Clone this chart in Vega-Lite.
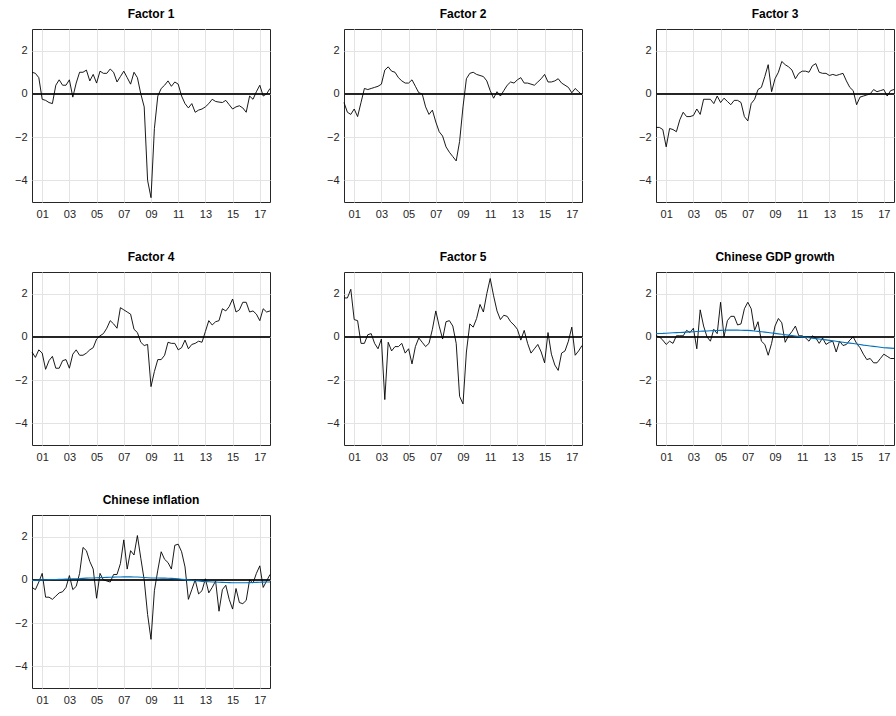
{
  "$schema": "https://vega.github.io/schema/vega-lite/v6.json",
  "padding": {"left": 13, "top": 7, "right": 0, "bottom": 0},
  "background": "white",
  "datasets": {
    "d": [
      {"t":2000.25,"f1":1.0,"f2":-0.4,"f3":-1.55,"f4":-0.7,"f5":1.8,"g":0.05,"gt":0.15,"i":-0.35,"it":-0.03},
      {"t":2000.5,"f1":0.95,"f2":-0.85,"f3":-1.55,"f4":-0.95,"f5":1.8,"g":0.0,"gt":0.155,"i":-0.45,"it":-0.02},
      {"t":2000.75,"f1":0.75,"f2":-0.95,"f3":-1.65,"f4":-0.6,"f5":2.2,"g":-0.15,"gt":0.16,"i":-0.1,"it":-0.01},
      {"t":2001.0,"f1":-0.25,"f2":-0.7,"f3":-2.45,"f4":-0.75,"f5":0.8,"g":-0.35,"gt":0.17,"i":0.3,"it":0.0},
      {"t":2001.25,"f1":-0.3,"f2":-1.05,"f3":-1.6,"f4":-1.5,"f5":0.75,"g":-0.2,"gt":0.18,"i":-0.8,"it":0.005},
      {"t":2001.5,"f1":-0.4,"f2":-0.4,"f3":-1.65,"f4":-1.1,"f5":-0.3,"g":-0.3,"gt":0.19,"i":-0.8,"it":0.01},
      {"t":2001.75,"f1":-0.45,"f2":0.25,"f3":-1.75,"f4":-0.9,"f5":-0.3,"g":0.05,"gt":0.195,"i":-0.9,"it":0.015},
      {"t":2002.0,"f1":0.4,"f2":0.2,"f3":-1.2,"f4":-1.45,"f5":0.1,"g":0.05,"gt":0.2,"i":-0.75,"it":0.02},
      {"t":2002.25,"f1":0.65,"f2":0.25,"f3":-0.85,"f4":-1.45,"f5":0.15,"g":0.05,"gt":0.21,"i":-0.6,"it":0.025},
      {"t":2002.5,"f1":0.4,"f2":0.3,"f3":-1.05,"f4":-1.1,"f5":-0.3,"g":0.3,"gt":0.22,"i":-0.55,"it":0.03},
      {"t":2002.75,"f1":0.4,"f2":0.35,"f3":-1.05,"f4":-1.05,"f5":-0.55,"g":0.2,"gt":0.23,"i":-0.35,"it":0.035},
      {"t":2003.0,"f1":0.65,"f2":0.45,"f3":-1.0,"f4":-1.45,"f5":-0.1,"g":0.4,"gt":0.24,"i":0.2,"it":0.04},
      {"t":2003.25,"f1":-0.15,"f2":1.1,"f3":-0.7,"f4":-0.8,"f5":-2.9,"g":-0.55,"gt":0.25,"i":-0.45,"it":0.05},
      {"t":2003.5,"f1":0.5,"f2":1.25,"f3":-0.95,"f4":-0.6,"f5":-0.25,"g":1.25,"gt":0.26,"i":-0.3,"it":0.055},
      {"t":2003.75,"f1":1.0,"f2":1.05,"f3":-0.25,"f4":-0.85,"f5":-0.65,"g":0.5,"gt":0.265,"i":0.3,"it":0.06},
      {"t":2004.0,"f1":1.0,"f2":1.0,"f3":-0.25,"f4":-0.85,"f5":-0.45,"g":0.0,"gt":0.27,"i":1.5,"it":0.07},
      {"t":2004.25,"f1":1.1,"f2":0.75,"f3":-0.25,"f4":-0.75,"f5":-0.45,"g":-0.2,"gt":0.28,"i":1.35,"it":0.08},
      {"t":2004.5,"f1":0.6,"f2":0.6,"f3":-0.45,"f4":-0.6,"f5":-0.3,"g":0.35,"gt":0.29,"i":0.85,"it":0.085},
      {"t":2004.75,"f1":0.9,"f2":0.5,"f3":-0.1,"f4":-0.5,"f5":-0.75,"g":0.15,"gt":0.295,"i":0.5,"it":0.09},
      {"t":2005.0,"f1":0.5,"f2":0.5,"f3":-0.4,"f4":-0.1,"f5":-0.55,"g":1.6,"gt":0.3,"i":-0.85,"it":0.1},
      {"t":2005.25,"f1":1.05,"f2":0.65,"f3":-0.2,"f4":0.05,"f5":-1.25,"g":0.0,"gt":0.305,"i":0.3,"it":0.105},
      {"t":2005.5,"f1":0.95,"f2":0.35,"f3":-0.35,"f4":0.15,"f5":-0.45,"g":0.75,"gt":0.31,"i":0.0,"it":0.11},
      {"t":2005.75,"f1":0.95,"f2":0.05,"f3":-0.5,"f4":0.4,"f5":-0.05,"g":0.95,"gt":0.31,"i":-0.05,"it":0.115},
      {"t":2006.0,"f1":1.15,"f2":0.0,"f3":-0.3,"f4":0.75,"f5":-0.25,"g":0.95,"gt":0.31,"i":-0.1,"it":0.12},
      {"t":2006.25,"f1":1.0,"f2":-0.6,"f3":-0.3,"f4":0.6,"f5":-0.45,"g":0.55,"gt":0.31,"i":0.25,"it":0.125},
      {"t":2006.5,"f1":0.55,"f2":-0.95,"f3":-0.4,"f4":0.4,"f5":-0.3,"g":0.6,"gt":0.305,"i":0.25,"it":0.13},
      {"t":2006.75,"f1":0.8,"f2":-0.75,"f3":-1.05,"f4":1.35,"f5":0.35,"g":1.3,"gt":0.3,"i":0.75,"it":0.135},
      {"t":2007.0,"f1":1.05,"f2":-1.3,"f3":-1.25,"f4":1.25,"f5":1.2,"g":1.6,"gt":0.3,"i":1.85,"it":0.14},
      {"t":2007.25,"f1":0.75,"f2":-1.75,"f3":-0.45,"f4":1.15,"f5":0.5,"g":1.3,"gt":0.29,"i":0.5,"it":0.14},
      {"t":2007.5,"f1":0.45,"f2":-1.95,"f3":-0.25,"f4":1.05,"f5":-0.1,"g":0.3,"gt":0.27,"i":1.35,"it":0.14},
      {"t":2007.75,"f1":1.0,"f2":-2.45,"f3":0.2,"f4":0.35,"f5":0.7,"g":0.7,"gt":0.255,"i":1.15,"it":0.135},
      {"t":2008.0,"f1":0.75,"f2":-2.7,"f3":0.3,"f4":0.2,"f5":0.75,"g":-0.2,"gt":0.24,"i":2.05,"it":0.13},
      {"t":2008.25,"f1":0.0,"f2":-2.9,"f3":0.8,"f4":-0.25,"f5":0.5,"g":-0.35,"gt":0.22,"i":1.0,"it":0.12},
      {"t":2008.5,"f1":-0.6,"f2":-3.1,"f3":1.35,"f4":-0.4,"f5":-0.3,"g":-0.85,"gt":0.2,"i":0.0,"it":0.11},
      {"t":2008.75,"f1":-4.0,"f2":-2.2,"f3":0.1,"f4":-0.35,"f5":-2.75,"g":-0.3,"gt":0.18,"i":-1.6,"it":0.1},
      {"t":2009.0,"f1":-4.8,"f2":-0.6,"f3":0.7,"f4":-2.3,"f5":-3.1,"g":0.5,"gt":0.16,"i":-2.75,"it":0.09},
      {"t":2009.25,"f1":-1.6,"f2":0.7,"f3":1.0,"f4":-1.6,"f5":-0.7,"g":0.85,"gt":0.14,"i":-0.5,"it":0.09},
      {"t":2009.5,"f1":-0.1,"f2":0.95,"f3":1.5,"f4":-1.05,"f5":0.6,"g":0.65,"gt":0.12,"i":0.45,"it":0.085},
      {"t":2009.75,"f1":0.25,"f2":1.0,"f3":1.35,"f4":-1.05,"f5":0.45,"g":-0.25,"gt":0.1,"i":1.3,"it":0.08},
      {"t":2010.0,"f1":0.4,"f2":0.9,"f3":1.25,"f4":-0.85,"f5":0.85,"g":0.05,"gt":0.08,"i":0.95,"it":0.08},
      {"t":2010.25,"f1":0.6,"f2":0.85,"f3":1.1,"f4":-0.25,"f5":1.5,"g":0.25,"gt":0.06,"i":0.8,"it":0.075},
      {"t":2010.5,"f1":0.35,"f2":0.8,"f3":0.7,"f4":-0.3,"f5":1.15,"g":0.5,"gt":0.04,"i":0.5,"it":0.07},
      {"t":2010.75,"f1":0.55,"f2":0.6,"f3":0.95,"f4":-0.3,"f5":2.0,"g":0.05,"gt":0.02,"i":1.6,"it":0.06},
      {"t":2011.0,"f1":0.45,"f2":0.15,"f3":1.05,"f4":-0.6,"f5":2.7,"g":0.05,"gt":0.0,"i":1.65,"it":0.05},
      {"t":2011.25,"f1":-0.1,"f2":-0.2,"f3":1.05,"f4":-0.5,"f5":1.9,"g":-0.05,"gt":-0.02,"i":1.3,"it":0.03},
      {"t":2011.5,"f1":-0.45,"f2":0.1,"f3":1.0,"f4":-0.15,"f5":1.2,"g":-0.2,"gt":-0.04,"i":0.6,"it":0.01},
      {"t":2011.75,"f1":-0.65,"f2":-0.1,"f3":1.3,"f4":-0.55,"f5":0.8,"g":0.05,"gt":-0.06,"i":-0.9,"it":-0.01},
      {"t":2012.0,"f1":-0.45,"f2":0.15,"f3":1.4,"f4":-0.35,"f5":1.0,"g":-0.05,"gt":-0.08,"i":-0.45,"it":-0.03},
      {"t":2012.25,"f1":-0.85,"f2":0.4,"f3":1.0,"f4":-0.3,"f5":0.95,"g":-0.3,"gt":-0.1,"i":0.0,"it":-0.04},
      {"t":2012.5,"f1":-0.75,"f2":0.55,"f3":0.95,"f4":-0.2,"f5":0.7,"g":-0.05,"gt":-0.12,"i":-0.65,"it":-0.05},
      {"t":2012.75,"f1":-0.7,"f2":0.5,"f3":0.95,"f4":-0.25,"f5":0.55,"g":-0.35,"gt":-0.14,"i":-0.5,"it":-0.07},
      {"t":2013.0,"f1":-0.6,"f2":0.65,"f3":0.85,"f4":0.25,"f5":0.35,"g":-0.25,"gt":-0.16,"i":0.05,"it":-0.08},
      {"t":2013.25,"f1":-0.45,"f2":0.75,"f3":0.9,"f4":0.75,"f5":-0.15,"g":-0.2,"gt":-0.18,"i":-0.6,"it":-0.09},
      {"t":2013.5,"f1":-0.25,"f2":0.5,"f3":0.85,"f4":0.55,"f5":0.3,"g":-0.7,"gt":-0.2,"i":-0.35,"it":-0.1},
      {"t":2013.75,"f1":-0.35,"f2":0.5,"f3":0.9,"f4":0.7,"f5":-0.3,"g":-0.2,"gt":-0.23,"i":-0.05,"it":-0.1},
      {"t":2014.0,"f1":-0.38,"f2":0.45,"f3":0.95,"f4":0.75,"f5":-0.75,"g":-0.4,"gt":-0.25,"i":-1.45,"it":-0.11},
      {"t":2014.25,"f1":-0.4,"f2":0.4,"f3":0.6,"f4":1.3,"f5":-0.55,"g":-0.35,"gt":-0.27,"i":-0.45,"it":-0.115},
      {"t":2014.5,"f1":-0.3,"f2":0.55,"f3":0.3,"f4":1.2,"f5":-0.35,"g":-0.15,"gt":-0.29,"i":-0.25,"it":-0.12},
      {"t":2014.75,"f1":-0.5,"f2":0.7,"f3":0.15,"f4":1.4,"f5":-0.7,"g":0.0,"gt":-0.31,"i":-0.9,"it":-0.125},
      {"t":2015.0,"f1":-0.7,"f2":0.9,"f3":-0.5,"f4":1.75,"f5":-1.2,"g":-0.3,"gt":-0.33,"i":-1.35,"it":-0.13},
      {"t":2015.25,"f1":-0.6,"f2":0.55,"f3":-0.15,"f4":1.15,"f5":0.2,"g":-0.5,"gt":-0.35,"i":-0.4,"it":-0.13},
      {"t":2015.5,"f1":-0.55,"f2":0.55,"f3":-0.1,"f4":1.25,"f5":-0.8,"g":-0.8,"gt":-0.38,"i":-1.05,"it":-0.13},
      {"t":2015.75,"f1":-0.65,"f2":0.6,"f3":-0.05,"f4":1.6,"f5":-1.3,"g":-1.05,"gt":-0.4,"i":-1.1,"it":-0.13},
      {"t":2016.0,"f1":-0.85,"f2":0.7,"f3":0.0,"f4":1.6,"f5":-1.55,"g":-1.0,"gt":-0.42,"i":-0.95,"it":-0.13},
      {"t":2016.25,"f1":-0.1,"f2":0.5,"f3":0.2,"f4":1.15,"f5":-0.75,"g":-1.2,"gt":-0.44,"i":0.0,"it":-0.125},
      {"t":2016.5,"f1":-0.25,"f2":0.4,"f3":0.1,"f4":1.2,"f5":-0.65,"g":-1.2,"gt":-0.46,"i":-0.15,"it":-0.12},
      {"t":2016.75,"f1":0.1,"f2":0.3,"f3":0.15,"f4":1.05,"f5":-0.2,"g":-1.0,"gt":-0.48,"i":0.3,"it":-0.115},
      {"t":2017.0,"f1":0.4,"f2":0.05,"f3":0.2,"f4":0.75,"f5":0.45,"g":-0.8,"gt":-0.5,"i":0.65,"it":-0.11},
      {"t":2017.25,"f1":-0.1,"f2":0.25,"f3":-0.1,"f4":1.3,"f5":-0.85,"g":-0.9,"gt":-0.51,"i":-0.35,"it":-0.105},
      {"t":2017.5,"f1":0.0,"f2":0.1,"f3":0.15,"f4":1.15,"f5":-0.65,"g":-1.0,"gt":-0.52,"i":-0.05,"it":-0.1},
      {"t":2017.75,"f1":0.25,"f2":-0.05,"f3":0.2,"f4":1.2,"f5":-0.4,"g":-1.0,"gt":-0.53,"i":0.25,"it":-0.1}
    ]
  },
  "data": {"name": "d"},
  "columns": 3,
  "bounds": "flush",
  "spacing": {"row": 70, "column": 74},
  "concat": [
    {"title": "Factor 1", "width": 238, "height": 173, "layer": [
      {"mark": {"type": "rule", "color": "#262626", "strokeWidth": 0.7}, "encoding": {"y": {"datum": 0, "type": "quantitative", "scale": {"domain": [-5, 3], "nice": false}}}},
      {"mark": {"type": "line", "color": "black", "strokeWidth": 0.9}, "encoding": {
        "x": {"field": "t", "type": "quantitative", "scale": {"domain": [2000.25, 2017.75], "nice": false, "zero": false}, "axis": {"values": [2001,2003,2005,2007,2009,2011,2013,2015,2017], "labelExpr": "(datum.value < 2010 ? '0' : '') + (datum.value - 2000)", "title": null}},
        "y": {"field": "f1", "type": "quantitative", "scale": {"domain": [-5, 3], "nice": false}, "axis": {"values": [-4,-2,0,2], "title": null}}}}
    ]},
    {"title": "Factor 2", "width": 238, "height": 173, "layer": [
      {"mark": {"type": "rule", "color": "#262626", "strokeWidth": 0.7}, "encoding": {"y": {"datum": 0, "type": "quantitative", "scale": {"domain": [-5, 3], "nice": false}}}},
      {"mark": {"type": "line", "color": "black", "strokeWidth": 0.9}, "encoding": {
        "x": {"field": "t", "type": "quantitative", "scale": {"domain": [2000.25, 2017.75], "nice": false, "zero": false}, "axis": {"values": [2001,2003,2005,2007,2009,2011,2013,2015,2017], "labelExpr": "(datum.value < 2010 ? '0' : '') + (datum.value - 2000)", "title": null}},
        "y": {"field": "f2", "type": "quantitative", "scale": {"domain": [-5, 3], "nice": false}, "axis": {"values": [-4,-2,0,2], "title": null}}}}
    ]},
    {"title": "Factor 3", "width": 238, "height": 173, "layer": [
      {"mark": {"type": "rule", "color": "#262626", "strokeWidth": 0.7}, "encoding": {"y": {"datum": 0, "type": "quantitative", "scale": {"domain": [-5, 3], "nice": false}}}},
      {"mark": {"type": "line", "color": "black", "strokeWidth": 0.9}, "encoding": {
        "x": {"field": "t", "type": "quantitative", "scale": {"domain": [2000.25, 2017.75], "nice": false, "zero": false}, "axis": {"values": [2001,2003,2005,2007,2009,2011,2013,2015,2017], "labelExpr": "(datum.value < 2010 ? '0' : '') + (datum.value - 2000)", "title": null}},
        "y": {"field": "f3", "type": "quantitative", "scale": {"domain": [-5, 3], "nice": false}, "axis": {"values": [-4,-2,0,2], "title": null}}}}
    ]},
    {"title": "Factor 4", "width": 238, "height": 173, "layer": [
      {"mark": {"type": "rule", "color": "#262626", "strokeWidth": 0.7}, "encoding": {"y": {"datum": 0, "type": "quantitative", "scale": {"domain": [-5, 3], "nice": false}}}},
      {"mark": {"type": "line", "color": "black", "strokeWidth": 0.9}, "encoding": {
        "x": {"field": "t", "type": "quantitative", "scale": {"domain": [2000.25, 2017.75], "nice": false, "zero": false}, "axis": {"values": [2001,2003,2005,2007,2009,2011,2013,2015,2017], "labelExpr": "(datum.value < 2010 ? '0' : '') + (datum.value - 2000)", "title": null}},
        "y": {"field": "f4", "type": "quantitative", "scale": {"domain": [-5, 3], "nice": false}, "axis": {"values": [-4,-2,0,2], "title": null}}}}
    ]},
    {"title": "Factor 5", "width": 238, "height": 173, "layer": [
      {"mark": {"type": "rule", "color": "#262626", "strokeWidth": 0.7}, "encoding": {"y": {"datum": 0, "type": "quantitative", "scale": {"domain": [-5, 3], "nice": false}}}},
      {"mark": {"type": "line", "color": "black", "strokeWidth": 0.9}, "encoding": {
        "x": {"field": "t", "type": "quantitative", "scale": {"domain": [2000.25, 2017.75], "nice": false, "zero": false}, "axis": {"values": [2001,2003,2005,2007,2009,2011,2013,2015,2017], "labelExpr": "(datum.value < 2010 ? '0' : '') + (datum.value - 2000)", "title": null}},
        "y": {"field": "f5", "type": "quantitative", "scale": {"domain": [-5, 3], "nice": false}, "axis": {"values": [-4,-2,0,2], "title": null}}}}
    ]},
    {"title": "Chinese GDP growth", "width": 238, "height": 173, "layer": [
      {"mark": {"type": "rule", "color": "#262626", "strokeWidth": 0.7}, "encoding": {"y": {"datum": 0, "type": "quantitative", "scale": {"domain": [-5, 3], "nice": false}}}},
      {"mark": {"type": "line", "color": "black", "strokeWidth": 0.9}, "encoding": {
        "x": {"field": "t", "type": "quantitative", "scale": {"domain": [2000.25, 2017.75], "nice": false, "zero": false}, "axis": {"values": [2001,2003,2005,2007,2009,2011,2013,2015,2017], "labelExpr": "(datum.value < 2010 ? '0' : '') + (datum.value - 2000)", "title": null}},
        "y": {"field": "g", "type": "quantitative", "scale": {"domain": [-5, 3], "nice": false}, "axis": {"values": [-4,-2,0,2], "title": null}}}},
      {"mark": {"type": "line", "color": "#0072BD", "strokeWidth": 1.1}, "encoding": {
        "x": {"field": "t", "type": "quantitative", "scale": {"domain": [2000.25, 2017.75], "nice": false, "zero": false}, "axis": {"values": [2001,2003,2005,2007,2009,2011,2013,2015,2017], "labelExpr": "(datum.value < 2010 ? '0' : '') + (datum.value - 2000)", "title": null}},
        "y": {"field": "gt", "type": "quantitative", "scale": {"domain": [-5, 3], "nice": false}, "axis": {"values": [-4,-2,0,2], "title": null}}}}
    ]},
    {"title": "Chinese inflation", "width": 238, "height": 173, "layer": [
      {"mark": {"type": "rule", "color": "#262626", "strokeWidth": 0.7}, "encoding": {"y": {"datum": 0, "type": "quantitative", "scale": {"domain": [-5, 3], "nice": false}}}},
      {"mark": {"type": "line", "color": "black", "strokeWidth": 0.9}, "encoding": {
        "x": {"field": "t", "type": "quantitative", "scale": {"domain": [2000.25, 2017.75], "nice": false, "zero": false}, "axis": {"values": [2001,2003,2005,2007,2009,2011,2013,2015,2017], "labelExpr": "(datum.value < 2010 ? '0' : '') + (datum.value - 2000)", "title": null}},
        "y": {"field": "i", "type": "quantitative", "scale": {"domain": [-5, 3], "nice": false}, "axis": {"values": [-4,-2,0,2], "title": null}}}},
      {"mark": {"type": "line", "color": "#0072BD", "strokeWidth": 1.1}, "encoding": {
        "x": {"field": "t", "type": "quantitative", "scale": {"domain": [2000.25, 2017.75], "nice": false, "zero": false}, "axis": {"values": [2001,2003,2005,2007,2009,2011,2013,2015,2017], "labelExpr": "(datum.value < 2010 ? '0' : '') + (datum.value - 2000)", "title": null}},
        "y": {"field": "it", "type": "quantitative", "scale": {"domain": [-5, 3], "nice": false}, "axis": {"values": [-4,-2,0,2], "title": null}}}}
    ]}
  ],
  "config": {
    "view": {"stroke": "#262626", "strokeWidth": 1},
    "axis": {"domain": false, "grid": true, "gridColor": "#e3e3e3", "gridWidth": 1, "ticks": false, "labelOverlap": false, "labelFont": "Liberation Sans", "labelFontSize": 11, "labelColor": "#262626"},
    "axisX": {"labelPadding": 6},
    "axisY": {"labelPadding": 5},
    "title": {"font": "Liberation Sans", "fontSize": 12, "fontWeight": "bold", "color": "#000000", "offset": 8}
  }
}
